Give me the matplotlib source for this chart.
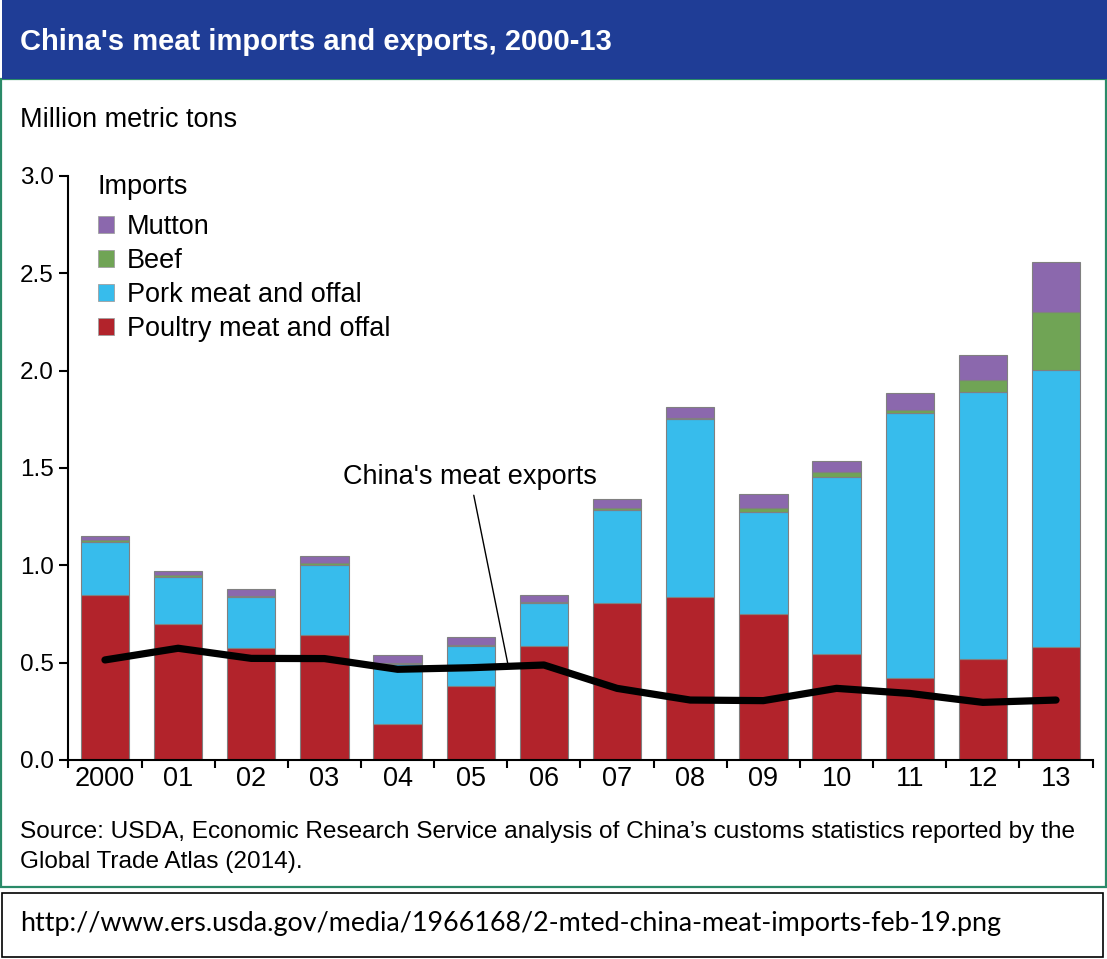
import matplotlib
matplotlib.use("Agg")
import matplotlib.pyplot as plt
from matplotlib.patches import Rectangle, Patch
import numpy as np

plt.rcParams['font.family'] = ['Liberation Sans', 'DejaVu Sans']

# ---- data ----
years = ['2000', '01', '02', '03', '04', '05', '06', '07', '08', '09', '10', '11', '12', '13']
poultry = [0.85, 0.70, 0.575, 0.64, 0.185, 0.38, 0.587, 0.805, 0.836, 0.75, 0.543, 0.42, 0.52, 0.582]
pork = [0.27, 0.24, 0.26, 0.36, 0.31, 0.204, 0.22, 0.477, 0.914, 0.526, 0.911, 1.36, 1.37, 1.42]
beef = [0.008, 0.01, 0.008, 0.011, 0.005, 0.008, 0.007, 0.011, 0.008, 0.02, 0.025, 0.02, 0.063, 0.298]
mutton = [0.022, 0.022, 0.036, 0.036, 0.037, 0.04, 0.033, 0.048, 0.054, 0.068, 0.057, 0.084, 0.129, 0.258]
exports = [0.514, 0.574, 0.522, 0.521, 0.466, 0.474, 0.488, 0.368, 0.308, 0.305, 0.368, 0.342, 0.296, 0.308]
yticks = [0.0, 0.5, 1.0, 1.5, 2.0, 2.5, 3.0]

series_names = ['Poultry meat and offal', 'Pork meat and offal', 'Beef', 'Mutton']
colors = {'Poultry meat and offal': '#b2232b', 'Pork meat and offal': '#37bcec',
          'Beef': '#70a455', 'Mutton': '#8b68ad'}

W, H = 1107, 959
fig = plt.figure(figsize=(W / 100, H / 100), dpi=100)

def fx(px):
    return px / W

def fy(py):
    return 1 - py / H

# axes placement
ax_l, ax_r, ax_b, ax_t = 68.4, 1092.6, 760, 176
ax = fig.add_axes([fx(ax_l), fy(ax_b), fx(ax_r) - fx(ax_l), fy(ax_t) - fy(ax_b)])

x = np.arange(len(years))
bottom = np.zeros(len(years))
for name, vals in zip(series_names, [poultry, pork, beef, mutton]):
    ax.bar(x, vals, width=0.66, bottom=bottom, color=colors[name],
           edgecolor='#808080', linewidth=0.8, zorder=2)
    bottom = bottom + np.array(vals)

ax.plot(x, exports, color='black', lw=5.2, solid_joinstyle='round',
        solid_capstyle='round', zorder=4)

ax.annotate("China's meat exports", xy=(5.505, 0.497), xytext=(4.99, 1.455),
            ha='center', va='center', fontsize=19.5,
            arrowprops=dict(arrowstyle='-', color='black', lw=1.0,
                            shrinkA=2, shrinkB=0), zorder=5)

ax.set_xlim(-0.5, 13.5)
ax.set_ylim(0, 3.0)
for s in ['top', 'right']:
    ax.spines[s].set_visible(False)
for s in ['left', 'bottom']:
    ax.spines[s].set_linewidth(1.5)

ax.set_yticks(yticks)
ax.set_yticklabels([f'{v:.1f}' for v in yticks])
ax.tick_params(axis='y', direction='out', length=6.5, width=1.5, labelsize=17.5, pad=4)

ax.set_xticks(np.arange(-0.5, 14, 1.0))
ax.set_xticklabels([])
ax.set_xticks(x, minor=True)
ax.set_xticklabels(years, minor=True)
ax.tick_params(axis='x', which='major', direction='out', length=6, width=1.5)
ax.tick_params(axis='x', which='minor', length=0, labelsize=19.5, pad=4)

leg_names = ['Mutton', 'Beef', 'Pork meat and offal', 'Poultry meat and offal']
leg_handles = [Patch(facecolor=colors[n], edgecolor='#a0a0a0', linewidth=0.6) for n in leg_names]
leg = ax.legend(leg_handles, leg_names,
                title='Imports', loc='upper left', bbox_to_anchor=(0.018, 1.0216),
                frameon=False, fontsize=19.5, title_fontsize=19.5,
                handlelength=0.6, handleheight=0.6, handletextpad=0.48,
                labelspacing=0.29, borderaxespad=0)
leg._legend_box.align = 'left'
leg._legend_box.sep = 10

# header band
fig.add_artist(Rectangle((fx(2), fy(79)), 1 - fx(2), fy(0) - fy(79),
                         transform=fig.transFigure, facecolor='#1f3d96',
                         edgecolor='none', zorder=0))
fig.text(fx(20), fy(42), "China's meat imports and exports, 2000-13", color='white',
         fontsize=21, fontweight='bold', ha='left', va='center')

# green border
fig.add_artist(Rectangle((fx(1), fy(887)), fx(1105), fy(79) - fy(887),
                         transform=fig.transFigure, facecolor='none',
                         edgecolor='#2a8a68', linewidth=1.6, zorder=-1))

fig.text(fx(20), fy(120), 'Million metric tons', fontsize=19.5, ha='left', va='center')

fig.text(fx(20), fy(832), "Source: USDA, Economic Research Service analysis of China\u2019s customs statistics reported by the",
         fontsize=17.6, ha='left', va='center')
fig.text(fx(20), fy(862), "Global Trade Atlas (2014).", fontsize=17.6, ha='left', va='center')

# URL box
fig.add_artist(Rectangle((fx(2), fy(957)), fx(1101), fy(893) - fy(957),
                         transform=fig.transFigure, facecolor='none',
                         edgecolor='black', linewidth=1.2))
fig.text(fx(20), fy(924), "http://www.ers.usda.gov/media/1966168/2-mted-china-meat-imports-feb-19.png",
         fontsize=19.4, ha='left', va='center', family=['Lato', 'DejaVu Sans'])

fig.savefig('out.png', dpi=100)
